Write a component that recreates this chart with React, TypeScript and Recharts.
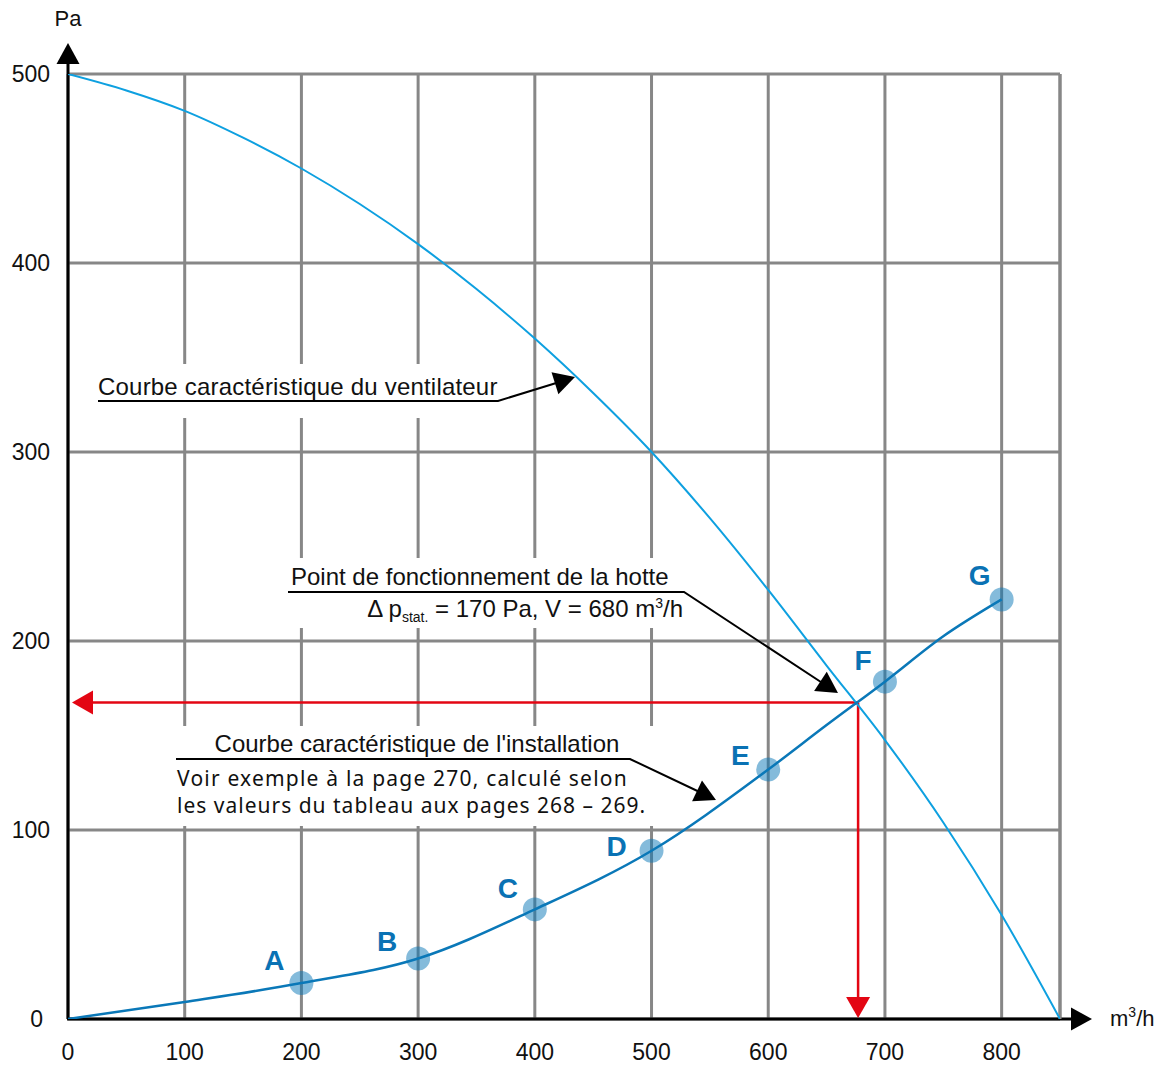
import React from "react";
import {
  ComposedChart,
  Line,
  Scatter,
  XAxis,
  YAxis,
  CartesianGrid,
  ReferenceLine,
} from "recharts";

// axes
const flowTicks = [0, 100, 200, 300, 400, 500, 600, 700, 800];
const pressureTicks = [0, 100, 200, 300, 400, 500];

// fan curve (m3/h -> Pa)
const fanFlow = [0, 50, 100, 150, 200, 250, 300, 350, 400, 450, 500, 550, 600, 650, 700, 750, 800, 850];
const fanPressure = [500, 491.3, 480.5, 466.3, 450, 431.2, 410, 386.2, 360, 331.2, 300, 265, 227, 187, 147.6, 104, 55, 0];

// installation curve
const instFlow = [0, 100, 200, 300, 400, 500, 600, 650, 700, 750, 800];
const instPressure = [0, 9, 19, 32, 58, 89, 132, 155.5, 178.5, 202.5, 222];

// measured points A..G
const pointNames = ["A", "B", "C", "D", "E", "F", "G"];
const pointFlow = [200, 300, 400, 500, 600, 700, 800];
const pointPressure = [19, 32, 58, 89, 132, 178.5, 222];

// operating point
const opFlow = 677;
const opPressure = 167.5;

const fanData = fanFlow.map((f, i) => ({ flow: f, pressure: fanPressure[i] }));
const instData = instFlow.map((f, i) => ({ flow: f, pressure: instPressure[i] }));
const pointData = pointFlow.map((f, i) => ({
  flow: f,
  pressure: pointPressure[i],
  name: pointNames[i],
}));

const W = 1162;
const H = 1065;
const MARGIN = { top: 74, right: 102, bottom: 0, left: 8 };
const Y_AXIS_W = 60;
const X_AXIS_H = 46;
const PLOT = {
  left: MARGIN.left + Y_AXIS_W,
  top: MARGIN.top,
  width: W - MARGIN.left - Y_AXIS_W - MARGIN.right,
  height: H - MARGIN.top - X_AXIS_H - MARGIN.bottom,
};
const X_MAX = 850;
const Y_MAX = 500;
const sx = (v: number) => PLOT.left + (v / X_MAX) * PLOT.width;
const sy = (v: number) => PLOT.top + PLOT.height * (1 - v / Y_MAX);

const ARIAL = "'Liberation Sans', Arial, Helvetica, sans-serif";
const HUMAN = "'Noto Sans', 'Open Sans', sans-serif";

const labelNudge: Record<string, [number, number]> = {
  A: [-27, -23],
  B: [-31, -18],
  C: [-27, -21],
  D: [-35, -5],
  E: [-28, -15],
  F: [-22, -22],
  G: [-22, -25],
};

function head(x1: number, y1: number, x2: number, y2: number, len = 21, wid = 23) {
  const dx = x2 - x1;
  const dy = y2 - y1;
  const d = Math.sqrt(dx * dx + dy * dy);
  const ux = dx / d;
  const uy = dy / d;
  const bx = x2 - ux * len;
  const by = y2 - uy * len;
  const px = -uy * (wid / 2);
  const py = ux * (wid / 2);
  return `${x2},${y2} ${bx + px},${by + py} ${bx - px},${by - py}`;
}

function PointShape(props: any) {
  const { cx, cy, payload } = props;
  const n = labelNudge[payload.name] || [-27, -21];
  return (
    <g>
      <circle cx={cx} cy={cy} r={12} fill="#0a78b8" fillOpacity={0.5} />
      <text
        x={cx + n[0]}
        y={cy + n[1]}
        dy="0.36em"
        textAnchor="middle"
        fontFamily={ARIAL}
        fontWeight="bold"
        fontSize={28}
        fill="#0a72b4"
      >
        {payload.name}
      </text>
    </g>
  );
}

function YTick(props: any) {
  const { x, y, payload } = props;
  return (
    <text
      x={payload.value === 0 ? x - 7 : x}
      y={y}
      dy="0.36em"
      textAnchor="end"
      fontFamily={ARIAL}
      fontSize={23}
      fill="#111"
    >
      {payload.value}
    </text>
  );
}

function Annotations() {
  const ox = sx(0);
  const oy = sy(0);
  const opx = sx(opFlow);
  const opy = sy(opPressure);
  return (
    <g>
      {/* white boxes behind labels */}
      <rect x={92} y={364} width={411} height={54} fill="#fff" />
      <rect x={285} y={558} width={405} height={70} fill="#fff" />
      <rect x={170} y={726} width={490} height={100} fill="#fff" />

      {/* axes with arrows */}
      <line x1={ox} y1={oy} x2={ox} y2={62} stroke="#000" strokeWidth={3} />
      <polygon points={head(ox, 100, ox, 43)} fill="#000" />
      <line x1={ox - 1} y1={oy} x2={1074} y2={oy} stroke="#000" strokeWidth={3} />
      <polygon points={head(1000, oy, 1092, oy)} fill="#000" />
      <text x={ox} y={26} textAnchor="middle" fontFamily={ARIAL} fontSize={22} fill="#111">
        Pa
      </text>
      <text x={1110} y={1026} fontFamily={ARIAL} fontSize={22} fill="#111">
        m<tspan fontSize={14} dy={-9}>3</tspan>
        <tspan dy={9}>/h</tspan>
      </text>

      {/* operating point */}
      <line x1={opx} y1={opy} x2={90} y2={opy} stroke="#e30613" strokeWidth={2.5} />
      <polygon points={head(opx, opy, 72, opy, 21, 24)} fill="#e30613" />
      <line x1={opx} y1={opy} x2={opx} y2={1000} stroke="#e30613" strokeWidth={2.5} />
      <polygon points={head(opx, opy, opx, 1018, 21, 24)} fill="#e30613" />

      {/* fan curve label */}
      <text x={98} y={395} fontFamily={ARIAL} fontSize={24} letterSpacing={0.2} fill="#111">
        Courbe caractéristique du ventilateur
      </text>
      <polyline points="98,401 498,401 566,380" fill="none" stroke="#000" strokeWidth={2} />
      <polygon points={head(498, 401, 575, 377)} fill="#000" />

      {/* operating point label */}
      <text x={291} y={585} fontFamily={ARIAL} fontSize={24} fill="#111">
        Point de fonctionnement de la hotte
      </text>
      <text x={683} y={617} textAnchor="end" fontFamily={ARIAL} fontSize={24} fill="#111">
        Δ p
        <tspan fontSize={14} dy={5}>stat.</tspan>
        <tspan dy={-5}> = 170 Pa, V = 680 m</tspan>
        <tspan fontSize={14} dy={-9}>3</tspan>
        <tspan dy={9}>/h</tspan>
      </text>
      <polyline points="288,592 684,592 830,688" fill="none" stroke="#000" strokeWidth={2} />
      <polygon points={head(684, 592, 838, 693)} fill="#000" />

      {/* installation curve label */}
      <text x={417} y={752} textAnchor="middle" fontFamily={ARIAL} fontSize={24} fill="#111">
        Courbe caractéristique de l'installation
      </text>
      <text x={177} y={786} fontFamily={HUMAN} fontSize={21} letterSpacing={1.2} fill="#111">
        Voir exemple à la page 270, calculé selon
      </text>
      <text x={177} y={813} fontFamily={HUMAN} fontSize={21} letterSpacing={1} fill="#111">
        les valeurs du tableau aux pages 268 – 269.
      </text>
      <polyline points="176,759 630,759 708,796" fill="none" stroke="#000" strokeWidth={2} />
      <polygon points={head(630, 759, 716, 800)} fill="#000" />
    </g>
  );
}

export default function App() {
  return (
    <div style={{ position: "absolute", left: 0, top: 0, background: "#fff" }}>
      <ComposedChart width={W} height={H} margin={MARGIN}>
        <CartesianGrid stroke="#878787" strokeWidth={3} />
        <XAxis
          type="number"
          dataKey="flow"
          domain={[0, X_MAX]}
          ticks={flowTicks}
          interval={0}
          allowDataOverflow
          axisLine={false}
          tickLine={false}
          tickSize={0}
          tickMargin={25}
          height={X_AXIS_H}
          tick={{ fontSize: 23, fill: "#111", fontFamily: ARIAL }}
        />
        <YAxis
          type="number"
          domain={[0, Y_MAX]}
          ticks={pressureTicks}
          interval={0}
          allowDataOverflow
          axisLine={false}
          tickLine={false}
          tickSize={0}
          tickMargin={18}
          width={Y_AXIS_W}
          tick={<YTick />}
        />
        <ReferenceLine x={X_MAX} stroke="#878787" strokeWidth={3} />
        <Line
          data={fanData}
          dataKey="pressure"
          type="monotone"
          stroke="#0ea0e0"
          strokeWidth={2}
          dot={false}
          activeDot={false}
          isAnimationActive={false}
        />
        <Line
          data={instData}
          dataKey="pressure"
          type="monotone"
          stroke="#0a78b8"
          strokeWidth={2.5}
          dot={false}
          activeDot={false}
          isAnimationActive={false}
        />
        <Scatter
          data={pointData}
          dataKey="pressure"
          shape={<PointShape />}
          isAnimationActive={false}
        />
        <Annotations />
      </ComposedChart>
    </div>
  );
}
